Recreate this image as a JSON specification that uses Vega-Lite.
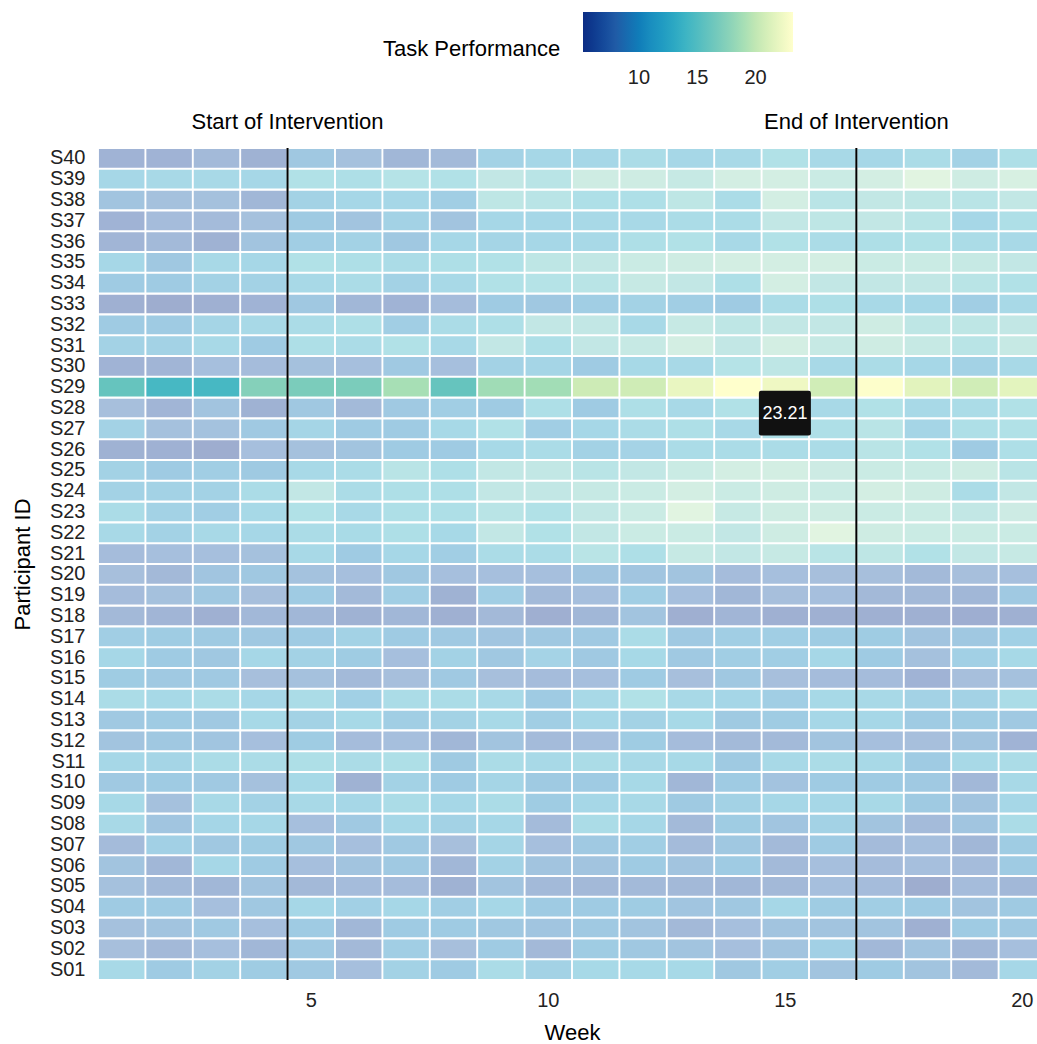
{
"$schema":"https://vega.github.io/schema/vega-lite/v6.json",
"width":939,"height":832,
"autosize":{"type":"none"},
"padding":{"left":98,"top":148,"right":0,"bottom":64},
"config":{"view":{"stroke":null},"font":"Liberation Sans",
"axis":{"domain":false,"ticks":false,"grid":false,"labelFont":"Liberation Sans","labelFontSize":20,"labelColor":"#222","titleFont":"Liberation Sans","titleFontSize":22,"titleFontWeight":"normal","titleColor":"#000"},
"legend":{"labelFont":"Liberation Sans","titleFont":"Liberation Sans"}},
"datasets":{"cells":[
{"id":"S40","week":1,"score":6.5},{"id":"S40","week":2,"score":6.5},{"id":"S40","week":3,"score":7.5},{"id":"S40","week":4,"score":6.3},{"id":"S40","week":5,"score":9.5},{"id":"S40","week":6,"score":8.5},{"id":"S40","week":7,"score":7},{"id":"S40","week":8,"score":7.5},{"id":"S40","week":9,"score":11},{"id":"S40","week":10,"score":12},{"id":"S40","week":11,"score":12},{"id":"S40","week":12,"score":13},{"id":"S40","week":13,"score":12},{"id":"S40","week":14,"score":12.5},{"id":"S40","week":15,"score":14},{"id":"S40","week":16,"score":12.5},{"id":"S40","week":17,"score":12},{"id":"S40","week":18,"score":13},{"id":"S40","week":19,"score":11},{"id":"S40","week":20,"score":13.5},
{"id":"S39","week":1,"score":12},{"id":"S39","week":2,"score":12.5},{"id":"S39","week":3,"score":12.5},{"id":"S39","week":4,"score":12},{"id":"S39","week":5,"score":14},{"id":"S39","week":6,"score":13.5},{"id":"S39","week":7,"score":14.5},{"id":"S39","week":8,"score":14},{"id":"S39","week":9,"score":16},{"id":"S39","week":10,"score":15},{"id":"S39","week":11,"score":17.5},{"id":"S39","week":12,"score":17.5},{"id":"S39","week":13,"score":16.5},{"id":"S39","week":14,"score":18},{"id":"S39","week":15,"score":18},{"id":"S39","week":16,"score":17},{"id":"S39","week":17,"score":18},{"id":"S39","week":18,"score":19.5},{"id":"S39","week":19,"score":17.5},{"id":"S39","week":20,"score":18.5},
{"id":"S38","week":1,"score":9},{"id":"S38","week":2,"score":8.5},{"id":"S38","week":3,"score":8.5},{"id":"S38","week":4,"score":7},{"id":"S38","week":5,"score":11},{"id":"S38","week":6,"score":12},{"id":"S38","week":7,"score":12},{"id":"S38","week":8,"score":10.5},{"id":"S38","week":9,"score":15.5},{"id":"S38","week":10,"score":15},{"id":"S38","week":11,"score":13.5},{"id":"S38","week":12,"score":13.5},{"id":"S38","week":13,"score":15.5},{"id":"S38","week":14,"score":13},{"id":"S38","week":15,"score":18},{"id":"S38","week":16,"score":15},{"id":"S38","week":17,"score":16},{"id":"S38","week":18,"score":15.5},{"id":"S38","week":19,"score":15},{"id":"S38","week":20,"score":16},
{"id":"S37","week":1,"score":6.5},{"id":"S37","week":2,"score":7.8},{"id":"S37","week":3,"score":7.7},{"id":"S37","week":4,"score":8.5},{"id":"S37","week":5,"score":9.8},{"id":"S37","week":6,"score":9},{"id":"S37","week":7,"score":11},{"id":"S37","week":8,"score":9},{"id":"S37","week":9,"score":12},{"id":"S37","week":10,"score":12},{"id":"S37","week":11,"score":12.5},{"id":"S37","week":12,"score":12.5},{"id":"S37","week":13,"score":13},{"id":"S37","week":14,"score":13},{"id":"S37","week":15,"score":16},{"id":"S37","week":16,"score":15.5},{"id":"S37","week":17,"score":16},{"id":"S37","week":18,"score":15},{"id":"S37","week":19,"score":12},{"id":"S37","week":20,"score":13.5},
{"id":"S36","week":1,"score":6.8},{"id":"S36","week":2,"score":7.5},{"id":"S36","week":3,"score":6.3},{"id":"S36","week":4,"score":9},{"id":"S36","week":5,"score":10.5},{"id":"S36","week":6,"score":11},{"id":"S36","week":7,"score":9.5},{"id":"S36","week":8,"score":12},{"id":"S36","week":9,"score":11.5},{"id":"S36","week":10,"score":12},{"id":"S36","week":11,"score":12.5},{"id":"S36","week":12,"score":13.5},{"id":"S36","week":13,"score":14},{"id":"S36","week":14,"score":12.5},{"id":"S36","week":15,"score":14},{"id":"S36","week":16,"score":13},{"id":"S36","week":17,"score":13.5},{"id":"S36","week":18,"score":14},{"id":"S36","week":19,"score":13},{"id":"S36","week":20,"score":12.5},
{"id":"S35","week":1,"score":12},{"id":"S35","week":2,"score":9.5},{"id":"S35","week":3,"score":12.5},{"id":"S35","week":4,"score":12},{"id":"S35","week":5,"score":14},{"id":"S35","week":6,"score":13.5},{"id":"S35","week":7,"score":13},{"id":"S35","week":8,"score":13.5},{"id":"S35","week":9,"score":14},{"id":"S35","week":10,"score":15.5},{"id":"S35","week":11,"score":16},{"id":"S35","week":12,"score":17},{"id":"S35","week":13,"score":17.5},{"id":"S35","week":14,"score":18},{"id":"S35","week":15,"score":18},{"id":"S35","week":16,"score":18},{"id":"S35","week":17,"score":17},{"id":"S35","week":18,"score":17},{"id":"S35","week":19,"score":16.5},{"id":"S35","week":20,"score":16},
{"id":"S34","week":1,"score":10},{"id":"S34","week":2,"score":10},{"id":"S34","week":3,"score":11},{"id":"S34","week":4,"score":11},{"id":"S34","week":5,"score":12.5},{"id":"S34","week":6,"score":13},{"id":"S34","week":7,"score":11},{"id":"S34","week":8,"score":12.5},{"id":"S34","week":9,"score":14},{"id":"S34","week":10,"score":14.5},{"id":"S34","week":11,"score":15},{"id":"S34","week":12,"score":16.5},{"id":"S34","week":13,"score":16},{"id":"S34","week":14,"score":13.5},{"id":"S34","week":15,"score":18},{"id":"S34","week":16,"score":16},{"id":"S34","week":17,"score":16},{"id":"S34","week":18,"score":16},{"id":"S34","week":19,"score":15},{"id":"S34","week":20,"score":14},
{"id":"S33","week":1,"score":6},{"id":"S33","week":2,"score":5.5},{"id":"S33","week":3,"score":6},{"id":"S33","week":4,"score":6.5},{"id":"S33","week":5,"score":9.5},{"id":"S33","week":6,"score":7},{"id":"S33","week":7,"score":6.5},{"id":"S33","week":8,"score":7.8},{"id":"S33","week":9,"score":10},{"id":"S33","week":10,"score":9.5},{"id":"S33","week":11,"score":10.5},{"id":"S33","week":12,"score":11},{"id":"S33","week":13,"score":10.5},{"id":"S33","week":14,"score":10},{"id":"S33","week":15,"score":13},{"id":"S33","week":16,"score":13.5},{"id":"S33","week":17,"score":12.5},{"id":"S33","week":18,"score":12},{"id":"S33","week":19,"score":10.5},{"id":"S33","week":20,"score":12.5},
{"id":"S32","week":1,"score":10},{"id":"S32","week":2,"score":10},{"id":"S32","week":3,"score":11.5},{"id":"S32","week":4,"score":12.5},{"id":"S32","week":5,"score":13},{"id":"S32","week":6,"score":13.5},{"id":"S32","week":7,"score":10.5},{"id":"S32","week":8,"score":13},{"id":"S32","week":9,"score":13.5},{"id":"S32","week":10,"score":16},{"id":"S32","week":11,"score":16},{"id":"S32","week":12,"score":12.5},{"id":"S32","week":13,"score":16.5},{"id":"S32","week":14,"score":15.5},{"id":"S32","week":15,"score":16},{"id":"S32","week":16,"score":16},{"id":"S32","week":17,"score":17.5},{"id":"S32","week":18,"score":15.5},{"id":"S32","week":19,"score":15.5},{"id":"S32","week":20,"score":16},
{"id":"S31","week":1,"score":11},{"id":"S31","week":2,"score":11},{"id":"S31","week":3,"score":12.5},{"id":"S31","week":4,"score":10},{"id":"S31","week":5,"score":13.5},{"id":"S31","week":6,"score":13},{"id":"S31","week":7,"score":14},{"id":"S31","week":8,"score":12.5},{"id":"S31","week":9,"score":16},{"id":"S31","week":10,"score":13.5},{"id":"S31","week":11,"score":16},{"id":"S31","week":12,"score":16.5},{"id":"S31","week":13,"score":18},{"id":"S31","week":14,"score":16},{"id":"S31","week":15,"score":18},{"id":"S31","week":16,"score":16.5},{"id":"S31","week":17,"score":17.5},{"id":"S31","week":18,"score":16.5},{"id":"S31","week":19,"score":15},{"id":"S31","week":20,"score":16.5},
{"id":"S30","week":1,"score":6.5},{"id":"S30","week":2,"score":6.8},{"id":"S30","week":3,"score":8.3},{"id":"S30","week":4,"score":7.8},{"id":"S30","week":5,"score":8.5},{"id":"S30","week":6,"score":8.3},{"id":"S30","week":7,"score":9.7},{"id":"S30","week":8,"score":8.3},{"id":"S30","week":9,"score":11},{"id":"S30","week":10,"score":11.5},{"id":"S30","week":11,"score":10},{"id":"S30","week":12,"score":12.3},{"id":"S30","week":13,"score":12.5},{"id":"S30","week":14,"score":14.5},{"id":"S30","week":15,"score":15.5},{"id":"S30","week":16,"score":12.5},{"id":"S30","week":17,"score":13},{"id":"S30","week":18,"score":12},{"id":"S30","week":19,"score":11},{"id":"S30","week":20,"score":12.5},
{"id":"S29","week":1,"score":16},{"id":"S29","week":2,"score":14.5},{"id":"S29","week":3,"score":14.5},{"id":"S29","week":4,"score":17.5},{"id":"S29","week":5,"score":17},{"id":"S29","week":6,"score":17},{"id":"S29","week":7,"score":19},{"id":"S29","week":8,"score":16},{"id":"S29","week":9,"score":18.7},{"id":"S29","week":10,"score":18.8},{"id":"S29","week":11,"score":20.5},{"id":"S29","week":12,"score":20.6},{"id":"S29","week":13,"score":22},{"id":"S29","week":14,"score":23.21},{"id":"S29","week":15,"score":22.3},{"id":"S29","week":16,"score":20.7},{"id":"S29","week":17,"score":23.1},{"id":"S29","week":18,"score":21.6},{"id":"S29","week":19,"score":20.7},{"id":"S29","week":20,"score":21.7},
{"id":"S28","week":1,"score":8.2},{"id":"S28","week":2,"score":6.8},{"id":"S28","week":3,"score":9},{"id":"S28","week":4,"score":6.3},{"id":"S28","week":5,"score":9.5},{"id":"S28","week":6,"score":7.5},{"id":"S28","week":7,"score":9.7},{"id":"S28","week":8,"score":10.5},{"id":"S28","week":9,"score":10},{"id":"S28","week":10,"score":13.5},{"id":"S28","week":11,"score":10},{"id":"S28","week":12,"score":13.5},{"id":"S28","week":13,"score":12.5},{"id":"S28","week":14,"score":14},{"id":"S28","week":15,"score":12.5},{"id":"S28","week":16,"score":12.5},{"id":"S28","week":17,"score":14},{"id":"S28","week":18,"score":12.5},{"id":"S28","week":19,"score":13},{"id":"S28","week":20,"score":14},
{"id":"S27","week":1,"score":11},{"id":"S27","week":2,"score":8.5},{"id":"S27","week":3,"score":8.7},{"id":"S27","week":4,"score":9.7},{"id":"S27","week":5,"score":11.5},{"id":"S27","week":6,"score":10},{"id":"S27","week":7,"score":10},{"id":"S27","week":8,"score":12.3},{"id":"S27","week":9,"score":14},{"id":"S27","week":10,"score":10.5},{"id":"S27","week":11,"score":12},{"id":"S27","week":12,"score":13},{"id":"S27","week":13,"score":13.5},{"id":"S27","week":14,"score":12.5},{"id":"S27","week":15,"score":13.5},{"id":"S27","week":16,"score":13.5},{"id":"S27","week":17,"score":15},{"id":"S27","week":18,"score":11.5},{"id":"S27","week":19,"score":13.5},{"id":"S27","week":20,"score":14},
{"id":"S26","week":1,"score":6.3},{"id":"S26","week":2,"score":6.2},{"id":"S26","week":3,"score":5.5},{"id":"S26","week":4,"score":8.3},{"id":"S26","week":5,"score":8.5},{"id":"S26","week":6,"score":9},{"id":"S26","week":7,"score":10},{"id":"S26","week":8,"score":10},{"id":"S26","week":9,"score":12.3},{"id":"S26","week":10,"score":13},{"id":"S26","week":11,"score":11},{"id":"S26","week":12,"score":11.3},{"id":"S26","week":13,"score":13},{"id":"S26","week":14,"score":13},{"id":"S26","week":15,"score":13},{"id":"S26","week":16,"score":13},{"id":"S26","week":17,"score":15},{"id":"S26","week":18,"score":14},{"id":"S26","week":19,"score":10},{"id":"S26","week":20,"score":13.5},
{"id":"S25","week":1,"score":11},{"id":"S25","week":2,"score":10},{"id":"S25","week":3,"score":10.5},{"id":"S25","week":4,"score":9.8},{"id":"S25","week":5,"score":12.5},{"id":"S25","week":6,"score":13},{"id":"S25","week":7,"score":15},{"id":"S25","week":8,"score":13.5},{"id":"S25","week":9,"score":16},{"id":"S25","week":10,"score":16},{"id":"S25","week":11,"score":15},{"id":"S25","week":12,"score":16},{"id":"S25","week":13,"score":17},{"id":"S25","week":14,"score":18},{"id":"S25","week":15,"score":18},{"id":"S25","week":16,"score":17.3},{"id":"S25","week":17,"score":17},{"id":"S25","week":18,"score":17},{"id":"S25","week":19,"score":17.5},{"id":"S25","week":20,"score":15},
{"id":"S24","week":1,"score":11},{"id":"S24","week":2,"score":11},{"id":"S24","week":3,"score":11},{"id":"S24","week":4,"score":13},{"id":"S24","week":5,"score":16},{"id":"S24","week":6,"score":13},{"id":"S24","week":7,"score":13.5},{"id":"S24","week":8,"score":13.5},{"id":"S24","week":9,"score":16},{"id":"S24","week":10,"score":16},{"id":"S24","week":11,"score":16.5},{"id":"S24","week":12,"score":17},{"id":"S24","week":13,"score":18},{"id":"S24","week":14,"score":17},{"id":"S24","week":15,"score":17.5},{"id":"S24","week":16,"score":17},{"id":"S24","week":17,"score":18},{"id":"S24","week":18,"score":17.5},{"id":"S24","week":19,"score":13},{"id":"S24","week":20,"score":16},
{"id":"S23","week":1,"score":13},{"id":"S23","week":2,"score":11},{"id":"S23","week":3,"score":10.5},{"id":"S23","week":4,"score":12.3},{"id":"S23","week":5,"score":14},{"id":"S23","week":6,"score":12.5},{"id":"S23","week":7,"score":13.5},{"id":"S23","week":8,"score":13.5},{"id":"S23","week":9,"score":15},{"id":"S23","week":10,"score":14},{"id":"S23","week":11,"score":16},{"id":"S23","week":12,"score":17},{"id":"S23","week":13,"score":19.5},{"id":"S23","week":14,"score":16.5},{"id":"S23","week":15,"score":17.5},{"id":"S23","week":16,"score":17.5},{"id":"S23","week":17,"score":17},{"id":"S23","week":18,"score":17},{"id":"S23","week":19,"score":16},{"id":"S23","week":20,"score":17.3},
{"id":"S22","week":1,"score":12.5},{"id":"S22","week":2,"score":11},{"id":"S22","week":3,"score":12.5},{"id":"S22","week":4,"score":12},{"id":"S22","week":5,"score":13},{"id":"S22","week":6,"score":12.7},{"id":"S22","week":7,"score":13.5},{"id":"S22","week":8,"score":12.3},{"id":"S22","week":9,"score":16},{"id":"S22","week":10,"score":14},{"id":"S22","week":11,"score":16},{"id":"S22","week":12,"score":17},{"id":"S22","week":13,"score":17},{"id":"S22","week":14,"score":16},{"id":"S22","week":15,"score":17.5},{"id":"S22","week":16,"score":19.5},{"id":"S22","week":17,"score":17.5},{"id":"S22","week":18,"score":17},{"id":"S22","week":19,"score":17},{"id":"S22","week":20,"score":17},
{"id":"S21","week":1,"score":7.8},{"id":"S21","week":2,"score":8.3},{"id":"S21","week":3,"score":8.3},{"id":"S21","week":4,"score":8.5},{"id":"S21","week":5,"score":12.5},{"id":"S21","week":6,"score":10},{"id":"S21","week":7,"score":12},{"id":"S21","week":8,"score":10.5},{"id":"S21","week":9,"score":13},{"id":"S21","week":10,"score":13},{"id":"S21","week":11,"score":15},{"id":"S21","week":12,"score":13.5},{"id":"S21","week":13,"score":16.5},{"id":"S21","week":14,"score":16},{"id":"S21","week":15,"score":16.5},{"id":"S21","week":16,"score":15},{"id":"S21","week":17,"score":15.5},{"id":"S21","week":18,"score":14},{"id":"S21","week":19,"score":16},{"id":"S21","week":20,"score":16.5},
{"id":"S20","week":1,"score":8.2},{"id":"S20","week":2,"score":7.3},{"id":"S20","week":3,"score":9.2},{"id":"S20","week":4,"score":9.5},{"id":"S20","week":5,"score":8.7},{"id":"S20","week":6,"score":8.3},{"id":"S20","week":7,"score":9.5},{"id":"S20","week":8,"score":8.3},{"id":"S20","week":9,"score":8.3},{"id":"S20","week":10,"score":8.3},{"id":"S20","week":11,"score":9.2},{"id":"S20","week":12,"score":9.2},{"id":"S20","week":13,"score":9},{"id":"S20","week":14,"score":7.8},{"id":"S20","week":15,"score":8.3},{"id":"S20","week":16,"score":8.2},{"id":"S20","week":17,"score":8.2},{"id":"S20","week":18,"score":7.5},{"id":"S20","week":19,"score":8.2},{"id":"S20","week":20,"score":8.3},
{"id":"S19","week":1,"score":7.8},{"id":"S19","week":2,"score":8.5},{"id":"S19","week":3,"score":9.5},{"id":"S19","week":4,"score":8.2},{"id":"S19","week":5,"score":10},{"id":"S19","week":6,"score":7.5},{"id":"S19","week":7,"score":10.5},{"id":"S19","week":8,"score":6.3},{"id":"S19","week":9,"score":10.5},{"id":"S19","week":10,"score":7.5},{"id":"S19","week":11,"score":8.3},{"id":"S19","week":12,"score":10.5},{"id":"S19","week":13,"score":8.3},{"id":"S19","week":14,"score":7},{"id":"S19","week":15,"score":8.2},{"id":"S19","week":16,"score":8.3},{"id":"S19","week":17,"score":7.3},{"id":"S19","week":18,"score":7.3},{"id":"S19","week":19,"score":7},{"id":"S19","week":20,"score":9.7},
{"id":"S18","week":1,"score":7.3},{"id":"S18","week":2,"score":6.8},{"id":"S18","week":3,"score":6},{"id":"S18","week":4,"score":7.2},{"id":"S18","week":5,"score":7},{"id":"S18","week":6,"score":6.3},{"id":"S18","week":7,"score":7},{"id":"S18","week":8,"score":6},{"id":"S18","week":9,"score":7.3},{"id":"S18","week":10,"score":5.8},{"id":"S18","week":11,"score":7},{"id":"S18","week":12,"score":9},{"id":"S18","week":13,"score":5.8},{"id":"S18","week":14,"score":6.8},{"id":"S18","week":15,"score":6},{"id":"S18","week":16,"score":6},{"id":"S18","week":17,"score":6},{"id":"S18","week":18,"score":6},{"id":"S18","week":19,"score":5.7},{"id":"S18","week":20,"score":6},
{"id":"S17","week":1,"score":10.5},{"id":"S17","week":2,"score":10.2},{"id":"S17","week":3,"score":9.8},{"id":"S17","week":4,"score":9.5},{"id":"S17","week":5,"score":10},{"id":"S17","week":6,"score":11},{"id":"S17","week":7,"score":10},{"id":"S17","week":8,"score":9.7},{"id":"S17","week":9,"score":9.2},{"id":"S17","week":10,"score":9.5},{"id":"S17","week":11,"score":9.7},{"id":"S17","week":12,"score":13},{"id":"S17","week":13,"score":9.7},{"id":"S17","week":14,"score":10.5},{"id":"S17","week":15,"score":10.5},{"id":"S17","week":16,"score":10.2},{"id":"S17","week":17,"score":10.2},{"id":"S17","week":18,"score":9},{"id":"S17","week":19,"score":9.5},{"id":"S17","week":20,"score":10.7},
{"id":"S16","week":1,"score":12},{"id":"S16","week":2,"score":10},{"id":"S16","week":3,"score":9.5},{"id":"S16","week":4,"score":12},{"id":"S16","week":5,"score":11},{"id":"S16","week":6,"score":10.2},{"id":"S16","week":7,"score":8.3},{"id":"S16","week":8,"score":11},{"id":"S16","week":9,"score":9.5},{"id":"S16","week":10,"score":11.3},{"id":"S16","week":11,"score":9.7},{"id":"S16","week":12,"score":12.3},{"id":"S16","week":13,"score":9.7},{"id":"S16","week":14,"score":10.5},{"id":"S16","week":15,"score":10.5},{"id":"S16","week":16,"score":12},{"id":"S16","week":17,"score":10},{"id":"S16","week":18,"score":8.5},{"id":"S16","week":19,"score":10.8},{"id":"S16","week":20,"score":12.3},
{"id":"S15","week":1,"score":10.2},{"id":"S15","week":2,"score":9.7},{"id":"S15","week":3,"score":9.7},{"id":"S15","week":4,"score":8.2},{"id":"S15","week":5,"score":8.5},{"id":"S15","week":6,"score":7.5},{"id":"S15","week":7,"score":8.2},{"id":"S15","week":8,"score":9.7},{"id":"S15","week":9,"score":8.2},{"id":"S15","week":10,"score":7.8},{"id":"S15","week":11,"score":8.3},{"id":"S15","week":12,"score":10},{"id":"S15","week":13,"score":8.2},{"id":"S15","week":14,"score":9.5},{"id":"S15","week":15,"score":8.2},{"id":"S15","week":16,"score":7.8},{"id":"S15","week":17,"score":7.8},{"id":"S15","week":18,"score":6.5},{"id":"S15","week":19,"score":8.2},{"id":"S15","week":20,"score":8.5},
{"id":"S14","week":1,"score":13},{"id":"S14","week":2,"score":12.3},{"id":"S14","week":3,"score":13},{"id":"S14","week":4,"score":12},{"id":"S14","week":5,"score":13},{"id":"S14","week":6,"score":10.7},{"id":"S14","week":7,"score":13},{"id":"S14","week":8,"score":13},{"id":"S14","week":9,"score":12.5},{"id":"S14","week":10,"score":10},{"id":"S14","week":11,"score":12.5},{"id":"S14","week":12,"score":14},{"id":"S14","week":13,"score":12.5},{"id":"S14","week":14,"score":11.8},{"id":"S14","week":15,"score":10.5},{"id":"S14","week":16,"score":12.3},{"id":"S14","week":17,"score":12.5},{"id":"S14","week":18,"score":11},{"id":"S14","week":19,"score":11},{"id":"S14","week":20,"score":13},
{"id":"S13","week":1,"score":9.7},{"id":"S13","week":2,"score":10},{"id":"S13","week":3,"score":9.7},{"id":"S13","week":4,"score":12.3},{"id":"S13","week":5,"score":11},{"id":"S13","week":6,"score":12.3},{"id":"S13","week":7,"score":10.5},{"id":"S13","week":8,"score":11},{"id":"S13","week":9,"score":12.5},{"id":"S13","week":10,"score":10.5},{"id":"S13","week":11,"score":12},{"id":"S13","week":12,"score":11},{"id":"S13","week":13,"score":12.3},{"id":"S13","week":14,"score":9.8},{"id":"S13","week":15,"score":10.2},{"id":"S13","week":16,"score":12},{"id":"S13","week":17,"score":12},{"id":"S13","week":18,"score":10},{"id":"S13","week":19,"score":10.2},{"id":"S13","week":20,"score":9.7},
{"id":"S12","week":1,"score":9},{"id":"S12","week":2,"score":9.5},{"id":"S12","week":3,"score":9.2},{"id":"S12","week":4,"score":8.3},{"id":"S12","week":5,"score":10.2},{"id":"S12","week":6,"score":7.8},{"id":"S12","week":7,"score":8.3},{"id":"S12","week":8,"score":7},{"id":"S12","week":9,"score":9},{"id":"S12","week":10,"score":7.7},{"id":"S12","week":11,"score":8.3},{"id":"S12","week":12,"score":10.2},{"id":"S12","week":13,"score":7.8},{"id":"S12","week":14,"score":7.5},{"id":"S12","week":15,"score":7.5},{"id":"S12","week":16,"score":9},{"id":"S12","week":17,"score":8.3},{"id":"S12","week":18,"score":8.2},{"id":"S12","week":19,"score":9},{"id":"S12","week":20,"score":6.5},
{"id":"S11","week":1,"score":12},{"id":"S11","week":2,"score":11.5},{"id":"S11","week":3,"score":13},{"id":"S11","week":4,"score":13},{"id":"S11","week":5,"score":13.5},{"id":"S11","week":6,"score":13},{"id":"S11","week":7,"score":13.5},{"id":"S11","week":8,"score":9.8},{"id":"S11","week":9,"score":13},{"id":"S11","week":10,"score":12.5},{"id":"S11","week":11,"score":13},{"id":"S11","week":12,"score":12.5},{"id":"S11","week":13,"score":12.3},{"id":"S11","week":14,"score":9.8},{"id":"S11","week":15,"score":12.5},{"id":"S11","week":16,"score":13},{"id":"S11","week":17,"score":12.5},{"id":"S11","week":18,"score":10},{"id":"S11","week":19,"score":12.5},{"id":"S11","week":20,"score":13},
{"id":"S10","week":1,"score":9.7},{"id":"S10","week":2,"score":10},{"id":"S10","week":3,"score":9.7},{"id":"S10","week":4,"score":8.5},{"id":"S10","week":5,"score":12.3},{"id":"S10","week":6,"score":6.3},{"id":"S10","week":7,"score":11},{"id":"S10","week":8,"score":10},{"id":"S10","week":9,"score":11.5},{"id":"S10","week":10,"score":9.8},{"id":"S10","week":11,"score":10},{"id":"S10","week":12,"score":12.3},{"id":"S10","week":13,"score":7},{"id":"S10","week":14,"score":10},{"id":"S10","week":15,"score":8.8},{"id":"S10","week":16,"score":10},{"id":"S10","week":17,"score":10},{"id":"S10","week":18,"score":9.7},{"id":"S10","week":19,"score":7.2},{"id":"S10","week":20,"score":12.5},
{"id":"S09","week":1,"score":12.3},{"id":"S09","week":2,"score":8.5},{"id":"S09","week":3,"score":12.5},{"id":"S09","week":4,"score":11},{"id":"S09","week":5,"score":12.5},{"id":"S09","week":6,"score":12},{"id":"S09","week":7,"score":13},{"id":"S09","week":8,"score":12},{"id":"S09","week":9,"score":13},{"id":"S09","week":10,"score":10.2},{"id":"S09","week":11,"score":12},{"id":"S09","week":12,"score":12.5},{"id":"S09","week":13,"score":9.8},{"id":"S09","week":14,"score":11},{"id":"S09","week":15,"score":12},{"id":"S09","week":16,"score":12},{"id":"S09","week":17,"score":12.5},{"id":"S09","week":18,"score":9.8},{"id":"S09","week":19,"score":9},{"id":"S09","week":20,"score":12},
{"id":"S08","week":1,"score":12.5},{"id":"S08","week":2,"score":9.2},{"id":"S08","week":3,"score":11.8},{"id":"S08","week":4,"score":12},{"id":"S08","week":5,"score":8.3},{"id":"S08","week":6,"score":9.7},{"id":"S08","week":7,"score":12},{"id":"S08","week":8,"score":11},{"id":"S08","week":9,"score":12},{"id":"S08","week":10,"score":7.7},{"id":"S08","week":11,"score":13},{"id":"S08","week":12,"score":12},{"id":"S08","week":13,"score":7.5},{"id":"S08","week":14,"score":10.2},{"id":"S08","week":15,"score":9.2},{"id":"S08","week":16,"score":11},{"id":"S08","week":17,"score":9},{"id":"S08","week":18,"score":7.7},{"id":"S08","week":19,"score":9.2},{"id":"S08","week":20,"score":13},
{"id":"S07","week":1,"score":7.7},{"id":"S07","week":2,"score":10.8},{"id":"S07","week":3,"score":9.5},{"id":"S07","week":4,"score":10.2},{"id":"S07","week":5,"score":9.5},{"id":"S07","week":6,"score":8.3},{"id":"S07","week":7,"score":9.7},{"id":"S07","week":8,"score":8.2},{"id":"S07","week":9,"score":11.5},{"id":"S07","week":10,"score":8.3},{"id":"S07","week":11,"score":9.7},{"id":"S07","week":12,"score":10.5},{"id":"S07","week":13,"score":7.7},{"id":"S07","week":14,"score":9.5},{"id":"S07","week":15,"score":7.5},{"id":"S07","week":16,"score":10},{"id":"S07","week":17,"score":7.7},{"id":"S07","week":18,"score":8.3},{"id":"S07","week":19,"score":7},{"id":"S07","week":20,"score":10.2},
{"id":"S06","week":1,"score":9},{"id":"S06","week":2,"score":7},{"id":"S06","week":3,"score":12},{"id":"S06","week":4,"score":10},{"id":"S06","week":5,"score":8.3},{"id":"S06","week":6,"score":9},{"id":"S06","week":7,"score":9.7},{"id":"S06","week":8,"score":7},{"id":"S06","week":9,"score":11},{"id":"S06","week":10,"score":9},{"id":"S06","week":11,"score":9},{"id":"S06","week":12,"score":10},{"id":"S06","week":13,"score":9},{"id":"S06","week":14,"score":10},{"id":"S06","week":15,"score":7.5},{"id":"S06","week":16,"score":8.3},{"id":"S06","week":17,"score":7.8},{"id":"S06","week":18,"score":8.3},{"id":"S06","week":19,"score":7.8},{"id":"S06","week":20,"score":10},
{"id":"S05","week":1,"score":8.5},{"id":"S05","week":2,"score":7.5},{"id":"S05","week":3,"score":7},{"id":"S05","week":4,"score":9},{"id":"S05","week":5,"score":7.3},{"id":"S05","week":6,"score":7.8},{"id":"S05","week":7,"score":7.8},{"id":"S05","week":8,"score":6.3},{"id":"S05","week":9,"score":9},{"id":"S05","week":10,"score":7.5},{"id":"S05","week":11,"score":7.3},{"id":"S05","week":12,"score":7.5},{"id":"S05","week":13,"score":7.3},{"id":"S05","week":14,"score":7},{"id":"S05","week":15,"score":7.3},{"id":"S05","week":16,"score":8.3},{"id":"S05","week":17,"score":7.8},{"id":"S05","week":18,"score":5.5},{"id":"S05","week":19,"score":7.8},{"id":"S05","week":20,"score":7.2},
{"id":"S04","week":1,"score":10},{"id":"S04","week":2,"score":10},{"id":"S04","week":3,"score":8.3},{"id":"S04","week":4,"score":9.5},{"id":"S04","week":5,"score":12},{"id":"S04","week":6,"score":10.8},{"id":"S04","week":7,"score":12},{"id":"S04","week":8,"score":10.5},{"id":"S04","week":9,"score":12},{"id":"S04","week":10,"score":10},{"id":"S04","week":11,"score":10},{"id":"S04","week":12,"score":10.2},{"id":"S04","week":13,"score":9.2},{"id":"S04","week":14,"score":9.5},{"id":"S04","week":15,"score":12},{"id":"S04","week":16,"score":10.2},{"id":"S04","week":17,"score":10.5},{"id":"S04","week":18,"score":10},{"id":"S04","week":19,"score":9},{"id":"S04","week":20,"score":9.8},
{"id":"S03","week":1,"score":8.5},{"id":"S03","week":2,"score":9},{"id":"S03","week":3,"score":9.7},{"id":"S03","week":4,"score":8.3},{"id":"S03","week":5,"score":10},{"id":"S03","week":6,"score":7},{"id":"S03","week":7,"score":10},{"id":"S03","week":8,"score":10},{"id":"S03","week":9,"score":9.5},{"id":"S03","week":10,"score":9.2},{"id":"S03","week":11,"score":9.7},{"id":"S03","week":12,"score":9},{"id":"S03","week":13,"score":7.3},{"id":"S03","week":14,"score":8.3},{"id":"S03","week":15,"score":9},{"id":"S03","week":16,"score":9},{"id":"S03","week":17,"score":9},{"id":"S03","week":18,"score":6},{"id":"S03","week":19,"score":10},{"id":"S03","week":20,"score":9.7},
{"id":"S02","week":1,"score":8.2},{"id":"S02","week":2,"score":7.3},{"id":"S02","week":3,"score":8.3},{"id":"S02","week":4,"score":7},{"id":"S02","week":5,"score":9.7},{"id":"S02","week":6,"score":7.3},{"id":"S02","week":7,"score":10.5},{"id":"S02","week":8,"score":8.2},{"id":"S02","week":9,"score":10},{"id":"S02","week":10,"score":7.3},{"id":"S02","week":11,"score":10.2},{"id":"S02","week":12,"score":9.5},{"id":"S02","week":13,"score":9},{"id":"S02","week":14,"score":8.3},{"id":"S02","week":15,"score":9},{"id":"S02","week":16,"score":10.8},{"id":"S02","week":17,"score":7.2},{"id":"S02","week":18,"score":9},{"id":"S02","week":19,"score":7},{"id":"S02","week":20,"score":8.3},
{"id":"S01","week":1,"score":12.5},{"id":"S01","week":2,"score":10},{"id":"S01","week":3,"score":11},{"id":"S01","week":4,"score":10.2},{"id":"S01","week":5,"score":9.7},{"id":"S01","week":6,"score":8.3},{"id":"S01","week":7,"score":11},{"id":"S01","week":8,"score":10},{"id":"S01","week":9,"score":13},{"id":"S01","week":10,"score":11},{"id":"S01","week":11,"score":12.3},{"id":"S01","week":12,"score":12.3},{"id":"S01","week":13,"score":12.3},{"id":"S01","week":14,"score":9.5},{"id":"S01","week":15,"score":10.5},{"id":"S01","week":16,"score":9},{"id":"S01","week":17,"score":10},{"id":"S01","week":18,"score":9},{"id":"S01","week":19,"score":7.5},{"id":"S01","week":20,"score":12}
],
"marks":[{"week":5,"label":"Start of Intervention"},{"week":17,"label":"End of Intervention"}]},
"layer":[
{"data":{"name":"cells"},
 "mark":{"type":"rect"},
 "encoding":{
  "x":{"field":"week","type":"ordinal","scale":{"range":[0,948],"paddingInner":0.04,"paddingOuter":0.02},"axis":{"title":"Week","values":[5,10,15,20],"labelAngle":0,"labelPadding":10,"titlePadding":12}},
  "y":{"field":"id","type":"ordinal","scale":{"domain":["S40","S39","S38","S37","S36","S35","S34","S33","S32","S31","S30","S29","S28","S27","S26","S25","S24","S23","S22","S21","S20","S19","S18","S17","S16","S15","S14","S13","S12","S11","S10","S09","S08","S07","S06","S05","S04","S03","S02","S01"],"paddingInner":0.1,"paddingOuter":0.05},"axis":{"title":"Participant ID","labelPadding":13,"titlePadding":15}},
  "color":{"field":"score","type":"quantitative","scale":{"domain":[5.2,8.2,11.2,14.21,17.21,20.21,23.21],"range":["#0c2c84","#225ea8","#1d91c0","#41b6c4","#7fcdbb","#c7e9b4","#ffffcc"]},
   "legend":{"title":"Task Performance","orient":"none","legendX":285,"legendY":-136,"direction":"horizontal","titleOrient":"left","titleAnchor":"middle","titleBaseline":"line-top","titleLineHeight":36,"titleFontSize":22,"titleFontWeight":"normal","titleColor":"#000","titlePadding":22,"gradientLength":210,"gradientThickness":40,"gradientStrokeWidth":0,"values":[10,15,20],"labelFontSize":20,"labelColor":"#222","labelOffset":16}},
  "opacity":{"condition":{"test":"datum.id === 'S29'","value":1},"value":0.4}
 }},
{"data":{"name":"marks"},
 "mark":{"type":"rule","color":"#000","strokeWidth":2,"xOffset":-1},
 "encoding":{"x":{"field":"week","type":"ordinal","bandPosition":0}}},
{"data":{"name":"marks"},
 "mark":{"type":"text","fontSize":22,"color":"#000","align":"center","baseline":"alphabetic","yOffset":-29,"xOffset":-1},
 "encoding":{"x":{"field":"week","type":"ordinal","bandPosition":0},"y":{"datum":"S40"},"text":{"field":"label"}}},
{"data":{"name":"cells"},
 "transform":[{"filter":"datum.id === 'S29' && datum.week === 14"}],
 "mark":{"type":"point","filled":true,"color":"#111","opacity":1,"size":2704,"shape":"M-0.92,-0.86 L0.92,-0.86 Q1,-0.86 1,-0.78 L1,0.78 Q1,0.86 0.92,0.86 L-0.92,0.86 Q-1,0.86 -1,0.78 L-1,-0.78 Q-1,-0.86 -0.92,-0.86 Z","xOffset":47,"yOffset":26},
 "encoding":{"x":{"field":"week","type":"ordinal"},"y":{"field":"id","type":"ordinal"}}},
{"data":{"name":"cells"},
 "transform":[{"filter":"datum.id === 'S29' && datum.week === 14"}],
 "mark":{"type":"text","color":"#fff","fontSize":18,"align":"center","baseline":"middle","xOffset":47,"yOffset":27},
 "encoding":{"x":{"field":"week","type":"ordinal"},"y":{"field":"id","type":"ordinal"},"text":{"field":"score","type":"quantitative","format":".2f"}}}
]
}
